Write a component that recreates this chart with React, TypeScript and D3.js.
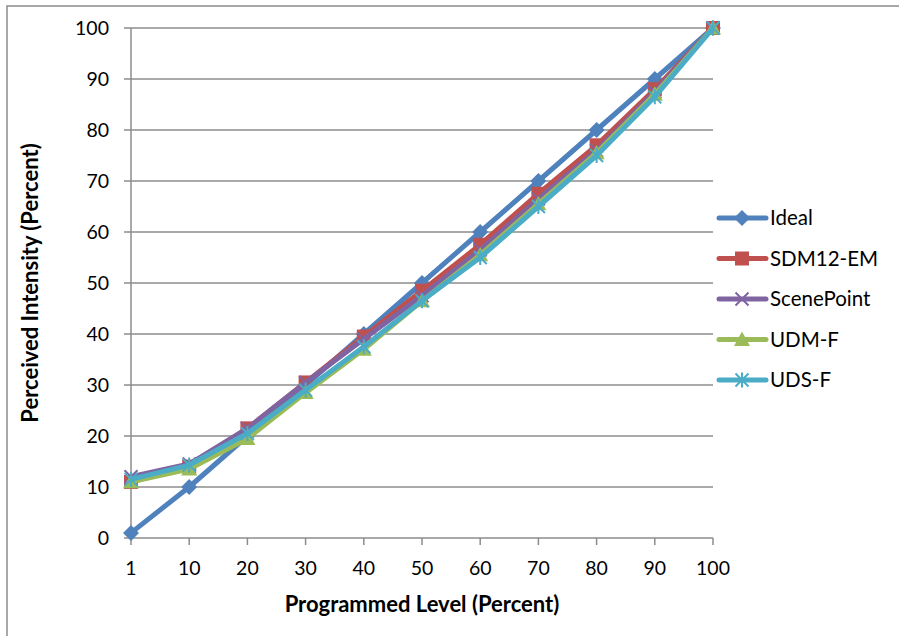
import React from 'react';
import * as d3 from 'd3';

const categories = ['1', '10', '20', '30', '40', '50', '60', '70', '80', '90', '100'];
const ideal = [1, 10, 20, 30, 40, 50, 60, 70, 80, 90, 100];
const sdm12em = [11, 14, 21.5, 30.5, 39.5, 48.5, 57.5, 67.5, 77, 88, 100];
const scenePoint = [12, 14.5, 21.5, 30.5, 39, 47.5, 56.5, 66.5, 76, 87.5, 100];
const udmF = [11, 13.5, 19.5, 28.5, 37, 46.5, 55.5, 65.5, 75.5, 87, 100];
const udsF = [11.5, 14.3, 20.5, 29, 37.5, 46.5, 55, 65, 75, 86.5, 100];
const yTicks = [0, 10, 20, 30, 40, 50, 60, 70, 80, 90, 100];

type Marker = 'diamond' | 'square' | 'x' | 'triangle' | 'star';

const series: { name: string; values: number[]; color: string; marker: Marker }[] = [
  { name: 'Ideal', values: ideal, color: '#4F81BD', marker: 'diamond' },
  { name: 'SDM12-EM', values: sdm12em, color: '#C0504D', marker: 'square' },
  { name: 'ScenePoint', values: scenePoint, color: '#8064A2', marker: 'x' },
  { name: 'UDM-F', values: udmF, color: '#9BBB59', marker: 'triangle' },
  { name: 'UDS-F', values: udsF, color: '#4BACC6', marker: 'star' }
];

const WIDTH = 899;
const HEIGHT = 636;
const plot = { left: 131, right: 713, top: 28, bottom: 538 };
const FONT = 'Lato, "Open Sans", sans-serif';
const GRID = '#8C8C8C';

function MarkerShape(props: { type: Marker; x: number; y: number; color: string }) {
  const { type, x, y, color } = props;
  if (type === 'diamond') {
    const r = 8;
    return <path d={`M${x},${y - r}L${x + r},${y}L${x},${y + r}L${x - r},${y}Z`} fill={color} />;
  }
  if (type === 'square') {
    const r = 7;
    return <rect x={x - r} y={y - r} width={2 * r} height={2 * r} fill={color} />;
  }
  if (type === 'triangle') {
    const r = 8;
    return <path d={`M${x},${y - r}L${x + r},${y + r * 0.8}L${x - r},${y + r * 0.8}Z`} fill={color} />;
  }
  const r = 6.5;
  const xPath = `M${x - r},${y - r}L${x + r},${y + r}M${x - r},${y + r}L${x + r},${y - r}`;
  if (type === 'x') {
    return <path d={xPath} stroke={color} strokeWidth={2} fill="none" />;
  }
  return (
    <path d={`${xPath}M${x},${y - r - 1}L${x},${y + r + 1}`} stroke={color} strokeWidth={2} fill="none" />
  );
}

export default function App() {
  const xScale = d3.scalePoint<string>().domain(categories).range([plot.left, plot.right]).padding(0);
  const yScale = d3.scaleLinear().domain([0, 100]).range([plot.bottom, plot.top]);

  const line = d3
    .line<number>()
    .x((_, i) => xScale(categories[i]) || 0)
    .y(d => yScale(d));

  return (
    <div style={{ position: 'absolute', left: 0, top: 0 }}>
      <svg width={WIDTH} height={HEIGHT} style={{ display: 'block', background: '#fff' }}>
        {/* outer frame */}
        <rect x={7} y={6} width={WIDTH + 10} height={HEIGHT + 10} fill="none" stroke="#8C8C8C" strokeWidth={1.5} />

        {/* horizontal gridlines + y ticks */}
        {yTicks.map(t => (
          <g key={t}>
            <line x1={plot.left} x2={plot.right} y1={yScale(t)} y2={yScale(t)} stroke={GRID} strokeWidth={1.5} />
            <line x1={plot.left - 7} x2={plot.left} y1={yScale(t)} y2={yScale(t)} stroke={GRID} strokeWidth={1.5} />
            <text
              x={plot.left - 22}
              y={yScale(t)}
              dy="0.36em"
              textAnchor="end"
              fontFamily={FONT}
              fontSize={19.5}
              fill="#000"
            >
              {t}
            </text>
          </g>
        ))}

        {/* y axis line */}
        <line x1={plot.left} x2={plot.left} y1={plot.top} y2={plot.bottom} stroke={GRID} strokeWidth={1.5} />

        {/* x axis ticks + labels */}
        {categories.map(c => {
          const x = xScale(c) || 0;
          return (
            <g key={c}>
              <line x1={x} x2={x} y1={plot.bottom} y2={plot.bottom + 7} stroke={GRID} strokeWidth={1.5} />
              <text x={x} y={plot.bottom + 37} textAnchor="middle" fontFamily={FONT} fontSize={19.5} fill="#000">
                {c}
              </text>
            </g>
          );
        })}

        {/* series */}
        {series.map(s => (
          <g key={s.name}>
            <path d={line(s.values) || ''} fill="none" stroke={s.color} strokeWidth={5} strokeLinejoin="round" />
            {s.values.map((v, i) => (
              <MarkerShape key={i} type={s.marker} x={xScale(categories[i]) || 0} y={yScale(v)} color={s.color} />
            ))}
          </g>
        ))}

        {/* axis titles */}
        <text
          x={(plot.left + plot.right) / 2}
          y={612}
          textAnchor="middle"
          fontFamily={FONT}
          fontWeight="bold"
          fontSize={22}
          fill="#000"
        >
          Programmed Level (Percent)
        </text>
        <text
          transform={`translate(38, ${(plot.top + plot.bottom) / 2}) rotate(-90)`}
          textAnchor="middle"
          fontFamily={FONT}
          fontWeight="bold"
          fontSize={22}
          fill="#000"
        >
          Perceived Intensity (Percent)
        </text>

        {/* legend */}
        {series.map((s, i) => {
          const y = 218 + i * 40.5;
          return (
            <g key={s.name}>
              <line x1={719} x2={766} y1={y} y2={y} stroke={s.color} strokeWidth={5} strokeLinecap="round" />
              <MarkerShape type={s.marker} x={742} y={y} color={s.color} />
              <text x={770} y={y} dy="0.36em" fontFamily={FONT} fontSize={20.5} fill="#000">
                {s.name}
              </text>
            </g>
          );
        })}
      </svg>
    </div>
  );
}
